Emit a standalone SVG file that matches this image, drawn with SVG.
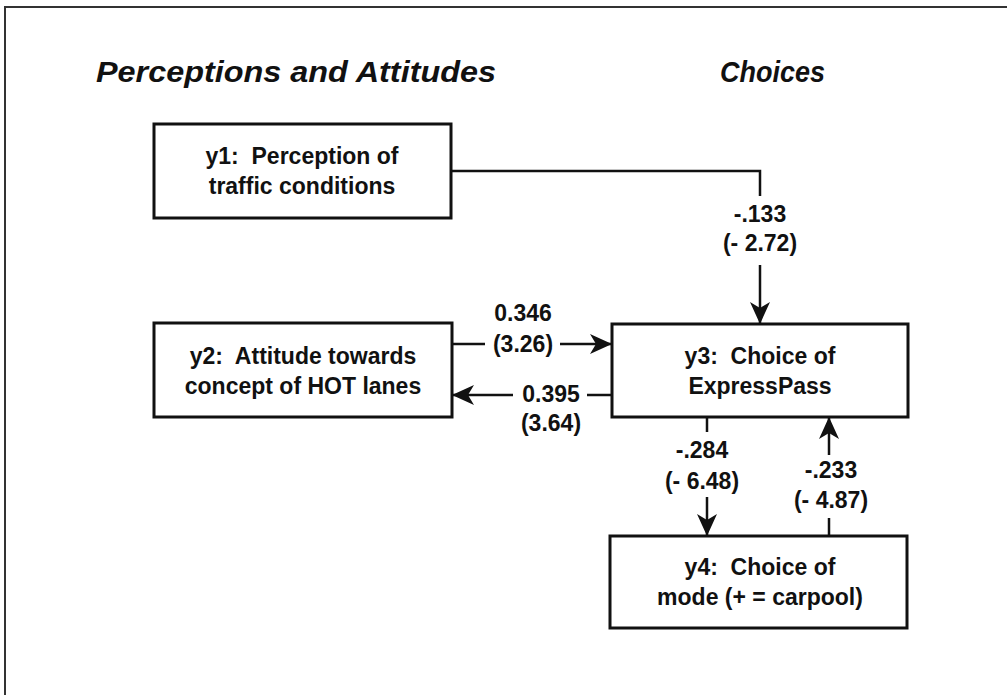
<svg xmlns="http://www.w3.org/2000/svg" width="1007" height="695" viewBox="0 0 1007 695">
<style>
.frame{fill:none;stroke:#333;stroke-width:2}
.box{fill:#fff;stroke:#111;stroke-width:3}
.t{font-family:"Liberation Sans",Arial,sans-serif;font-weight:bold;font-size:23px;fill:#111;text-anchor:middle;white-space:pre}
.h{font-family:"Liberation Sans",Arial,sans-serif;font-weight:bold;font-style:italic;font-size:30px;fill:#111}
.c{fill:none;stroke:#111;stroke-width:2.5}
</style>
<defs>
<marker id="ah" viewBox="0 0 22 20" refX="21" refY="10" markerWidth="22" markerHeight="20" markerUnits="userSpaceOnUse" orient="auto">
<path d="M0,0 L22,10 L0,20 L6,10 Z" fill="#111"/>
</marker>
</defs>
<rect width="1007" height="695" fill="#fff"/>
<path class="frame" d="M5,700 V7 H1010"/>
<text class="h" x="96" y="82" textLength="400" lengthAdjust="spacingAndGlyphs">Perceptions and Attitudes</text>
<text class="h" x="720" y="82" textLength="105" lengthAdjust="spacingAndGlyphs">Choices</text>
<g id="y1">
<rect class="box" x="154" y="124" width="297" height="94"/>
<text class="t" x="302" y="164" xml:space="preserve">y1:  Perception of</text>
<text class="t" x="302" y="194">traffic conditions</text>
</g>
<g id="y2">
<rect class="box" x="154" y="323" width="298" height="94"/>
<text class="t" x="303" y="364" xml:space="preserve">y2:  Attitude towards</text>
<text class="t" x="303" y="394">concept of HOT lanes</text>
</g>
<g id="y3">
<rect class="box" x="612" y="324" width="296" height="93"/>
<text class="t" x="760" y="364" xml:space="preserve">y3:  Choice of</text>
<text class="t" x="760" y="394">ExpressPass</text>
</g>
<g id="y4">
<rect class="box" x="610" y="536" width="297" height="92"/>
<text class="t" x="760" y="575" xml:space="preserve">y4:  Choice of</text>
<text class="t" x="760" y="605">mode (+ = carpool)</text>
</g>
<g id="connectors">
<path class="c" d="M451,171 H760 V196"/>
<path class="c" d="M760,265 V323" marker-end="url(#ah)"/>
<text class="t" x="760" y="222">-.133</text>
<text class="t" x="760" y="251">(- 2.72)</text>
<path class="c" d="M452,344 H485"/>
<path class="c" d="M560,344 H611" marker-end="url(#ah)"/>
<text class="t" x="523" y="321">0.346</text>
<text class="t" x="523" y="352">(3.26)</text>
<path class="c" d="M612,395 H587"/>
<path class="c" d="M513,395 H453" marker-end="url(#ah)"/>
<text class="t" x="551" y="402">0.395</text>
<text class="t" x="551" y="431">(3.64)</text>
<path class="c" d="M707,417 V432"/>
<path class="c" d="M707,497 V535" marker-end="url(#ah)"/>
<text class="t" x="702" y="458">-.284</text>
<text class="t" x="702" y="489">(- 6.48)</text>
<path class="c" d="M829,536 V518"/>
<path class="c" d="M829,455 V418" marker-end="url(#ah)"/>
<text class="t" x="831" y="478">-.233</text>
<text class="t" x="831" y="508">(- 4.87)</text>
</g>
</svg>
